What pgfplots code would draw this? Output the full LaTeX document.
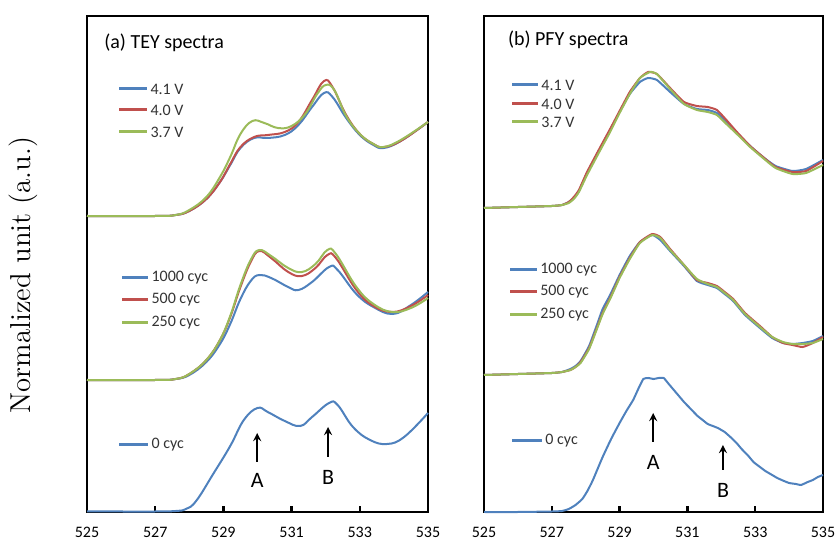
\documentclass[border=0pt]{standalone}
\usepackage{pgfplots}
\pgfplotsset{compat=1.18}
\usepackage{fontspec}
\newfontfamily\carlito{Carlito}
\definecolor{xblue}{HTML}{4F81BD}
\definecolor{xred}{HTML}{C0504D}
\definecolor{xgreen}{HTML}{9BBB59}

\pgfplotsset{
  spec/.style={
    scale only axis, height=248pt,
    xmin=525, xmax=535, ymin=0, ymax=496,
    xtick={525,527,...,535}, ytick=\empty,
    axis line style={line width=1.2pt},
    tick align=inside, xtick pos=bottom,
    major tick length=3pt,
    tick style={line width=1.2pt, black},
    xticklabel style={font=\carlito\fontsize{8}{9}\selectfont, yshift=-4pt},
    /pgf/number format/assume math mode=true,
    /pgf/number format/1000 sep={},
    clip=false,
  },
  curve/.style={line width=1pt, no markers},
}
% legend entry drawn inside an axis: colour, x from, x to, y, text
\newcommand\leg[5]{\draw[#1, line width=1.5pt] (axis cs:#2,#4) -- (axis cs:#3,#4)
  node[right, inner sep=1pt, text=black!80, font=\carlito\fontsize{8}{9}\selectfont] {#5};}

\begin{document}
\begin{tikzpicture}
\path[use as bounding box] (0,0) rectangle (418.5pt,270.5pt);
\node[rotate=90, font=\fontsize{14.4}{17}\selectfont] at (11.5pt,133pt) {Normalized unit (a.u.)};

% ---------------- (a) TEY ----------------
\begin{axis}[spec, width=170.5pt, at={(43.5pt,14.5pt)}, anchor=south west]
% 0 cyc
\addplot[curve, xblue, smooth, tension=0.7] coordinates {
(525,0.5) (526,0.5) (527,0.5) (527.6,1) (527.9,3) (528.2,11) (528.7,38) (529.2,66)
(529.6,92) (530.0,104) (530.3,100) (530.8,91) (531.25,86) (531.6,95) (532.1,109)
(532.35,107) (532.8,85) (533.3,72) (533.8,68) (534.3,75) (535,99)};
% cycling
\addplot[curve, xblue, smooth, tension=0.7] coordinates {
(525,132) (527,132) (527.6,133) (528.0,137) (528.5,150) (528.9,168) (529.2,188)
(529.5,213) (529.8,231) (530.05,237) (530.4,234) (530.9,225) (531.2,222) (531.6,230)
(532.1,245) (532.35,242) (532.9,218) (533.4,205) (533.97,198) (534.5,207) (535,220)};
\addplot[curve, xred, smooth, tension=0.7] coordinates {
(525,132) (527,132) (527.6,133) (528.0,138) (528.5,152) (528.9,172) (529.2,195)
(529.5,225) (529.8,250) (530.05,261) (530.4,254) (530.9,240) (531.3,236) (531.7,244)
(532.05,257) (532.3,254) (532.9,222) (533.4,206) (533.95,200) (534.5,206) (535,217)};
\addplot[curve, xgreen, smooth, tension=0.7] coordinates {
(525,132) (527,132) (527.6,133) (528.0,138) (528.5,152) (528.9,172) (529.2,196)
(529.5,227) (529.8,252) (530.05,262) (530.4,256) (530.9,244) (531.3,240) (531.7,248)
(532.05,262) (532.3,258) (532.9,225) (533.4,208) (533.95,200) (534.5,204) (535,214)};
% potentials
\addplot[curve, xblue, smooth, tension=0.7] coordinates {
(525,296) (527,296) (527.6,297) (528.0,301) (528.5,313) (528.9,330) (529.2,347)
(529.5,364) (529.9,374) (530.3,374) (530.8,377) (531.2,387) (531.6,405) (531.95,419)
(532.2,415) (532.6,394) (533.0,377) (533.4,367) (533.7,364) (534.2,371) (535,390)};
\addplot[curve, xred, smooth, tension=0.7] coordinates {
(525,296) (527,296) (527.6,297) (528.0,301) (528.5,313) (528.9,330) (529.2,348)
(529.5,365) (529.9,375) (530.3,377) (530.8,380) (531.2,390) (531.6,412) (531.95,431)
(532.2,425) (532.6,397) (533.0,378) (533.4,368) (533.7,365) (534.2,371) (535,390)};
\addplot[curve, xgreen, smooth, tension=0.7] coordinates {
(525,296) (527,296) (527.6,297) (528.0,302) (528.5,315) (528.9,335) (529.2,355)
(529.5,378) (529.85,391) (530.2,389) (530.6,384) (531.0,386) (531.4,398) (531.75,418)
(532.0,427) (532.25,422) (532.6,396) (533.0,378) (533.4,368) (533.7,365) (534.2,372) (535,390)};

\node[anchor=west, font=\carlito\fontsize{10}{12}\selectfont] at (axis cs:525.3,469) {(a) TEY spectra};
\leg{xblue}{525.94}{526.76}{423}{4.1 V}
\leg{xred}{525.94}{526.76}{402}{4.0 V}
\leg{xgreen}{525.94}{526.76}{380}{3.7 V}
\leg{xblue}{526.03}{526.79}{234}{1000 cyc}
\leg{xred}{526.03}{526.79}{212}{500 cyc}
\leg{xgreen}{526.03}{526.79}{189}{250 cyc}
\leg{xblue}{525.94}{526.79}{67}{0 cyc}
\draw[-stealth, line width=0.8pt] (axis cs:529.99,50) -- (axis cs:529.99,79);
\draw[-stealth, line width=0.8pt] (axis cs:532.07,55) -- (axis cs:532.07,85);
\node[font=\carlito\fontsize{11}{13}\selectfont] at (axis cs:529.99,32) {A};
\node[font=\carlito\fontsize{11}{13}\selectfont] at (axis cs:532.07,35) {B};
\end{axis}

% ---------------- (b) PFY ----------------
\begin{axis}[spec, width=169.5pt, at={(242pt,14.5pt)}, anchor=south west]
% 0 cyc
\addplot[curve, xblue, smooth, tension=0.3] coordinates {
(525,0) (526,0) (527,0.5) (527.3,1) (527.5,3) (527.7,7) (527.9,13) (528.05,21) (528.2,31)
(528.35,43) (528.5,55) (528.75,73) (529.0,89) (529.2,101) (529.4,112) (529.55,123)
(529.7,133) (529.85,134) (530.0,133) (530.15,134) (530.3,134) (530.45,128) (530.6,122)
(530.75,116) (530.9,110) (531.1,103) (531.3,96) (531.45,92) (531.6,88) (531.75,86)
(531.9,84) (532.0,82) (532.1,80) (532.3,74) (532.45,69) (532.6,63) (532.8,56)
(532.95,50) (533.1,46) (533.3,41) (533.5,37) (533.65,34) (533.85,31) (534.0,29)
(534.2,28) (534.35,27) (534.55,30) (534.7,32) (534.85,35) (535,37)};
% cycling
\addplot[curve, xblue, smooth, tension=0.3] coordinates {
(525,137) (526,138) (527,139) (527.3,140) (527.55,143) (527.7,146) (527.85,151) (528.1,166) (528.33,187)
(528.5,203) (528.72,217) (529.0,237) (529.3,256) (529.6,270) (529.96,277) (530.2,272)
(530.49,261) (530.9,246) (531.28,231) (531.6,227) (531.87,224) (532.1,218) (532.35,211)
(532.7,197) (533.14,184) (533.5,174) (533.82,169) (534.1,168) (534.4,169) (534.7,171) (535,176)};
\addplot[curve, xred, smooth, tension=0.3] coordinates {
(525,137) (526,138) (527,139) (527.3,140) (527.55,142) (527.7,145) (527.85,150) (528.1,164) (528.33,184)
(528.5,199) (528.72,214) (529.0,235) (529.3,254) (529.6,270) (529.96,278) (530.2,275)
(530.49,263) (530.9,247) (531.28,232) (531.6,229) (531.87,226) (532.1,220) (532.35,213)
(532.7,199) (533.14,186) (533.5,175) (533.82,169) (534.1,167) (534.4,165) (534.7,169) (535,175)};
\addplot[curve, xgreen, smooth, tension=0.3] coordinates {
(525,137) (526,138) (527,139) (527.3,140) (527.55,142) (527.7,145) (527.85,149) (528.1,163) (528.33,183)
(528.5,198) (528.72,213) (529.0,234) (529.3,253) (529.6,269) (529.96,277) (530.2,274)
(530.49,262) (530.9,247) (531.28,233) (531.6,228) (531.87,225) (532.1,219) (532.35,212)
(532.7,198) (533.14,185) (533.5,175) (533.82,170) (534.1,168) (534.4,168) (534.7,169) (535,173)};
% potentials
\addplot[curve, xblue, smooth, tension=0.3] coordinates {
(525,304) (526,305) (527,306) (527.3,307) (527.5,310) (527.65,314) (527.8,321) (528.04,339) (528.4,362)
(528.72,382) (529.0,400) (529.3,418) (529.6,430) (529.84,434) (530.1,432) (530.49,420)
(530.9,408) (531.28,403) (531.6,402) (531.87,399) (532.15,390) (532.46,379) (532.85,366)
(533.23,355) (533.6,346) (534.1,341) (534.5,343) (535,352)};
\addplot[curve, xred, smooth, tension=0.3] coordinates {
(525,304) (526,305) (527,306) (527.3,307) (527.5,310) (527.65,315) (527.8,322) (528.04,340) (528.4,363)
(528.72,383) (529.0,401) (529.3,420) (529.6,434) (529.84,440) (530.1,438) (530.49,424)
(530.9,410) (531.28,406) (531.6,405) (531.87,402) (532.15,392) (532.46,380) (532.85,366)
(533.23,355) (533.6,345) (534.1,340) (534.5,341) (535,351)};
\addplot[curve, xgreen, smooth, tension=0.3] coordinates {
(525,304) (526,305) (527,306) (527.3,307) (527.5,309) (527.65,313) (527.8,320) (528.04,337) (528.4,360)
(528.72,380) (529.0,399) (529.3,418) (529.6,434) (529.9,440) (530.1,438) (530.49,423)
(530.9,408) (531.28,402) (531.6,400) (531.87,397) (532.15,388) (532.46,378) (532.85,365)
(533.23,354) (533.6,344) (534.1,338) (534.5,339) (535,347)};

\node[anchor=west, font=\carlito\fontsize{10}{12}\selectfont] at (axis cs:525.5,472) {(b) PFY spectra};
\leg{xblue}{525.83}{526.59}{427}{4.1 V}
\leg{xred}{525.83}{526.59}{408}{4.0 V}
\leg{xgreen}{525.83}{526.59}{390}{3.7 V}
\leg{xblue}{525.77}{526.56}{242}{1000 cyc}
\leg{xred}{525.77}{526.56}{220}{500 cyc}
\leg{xgreen}{525.77}{526.56}{197}{250 cyc}
\leg{xblue}{525.83}{526.71}{71}{0 cyc}
\draw[-stealth, line width=0.8pt] (axis cs:529.99,70) -- (axis cs:529.99,99);
\draw[-stealth, line width=0.8pt] (axis cs:532.05,42) -- (axis cs:532.05,67);
\node[font=\carlito\fontsize{11}{13}\selectfont] at (axis cs:529.99,50) {A};
\node[font=\carlito\fontsize{11}{13}\selectfont] at (axis cs:532.05,22) {B};
\end{axis}
\end{tikzpicture}
\end{document}
